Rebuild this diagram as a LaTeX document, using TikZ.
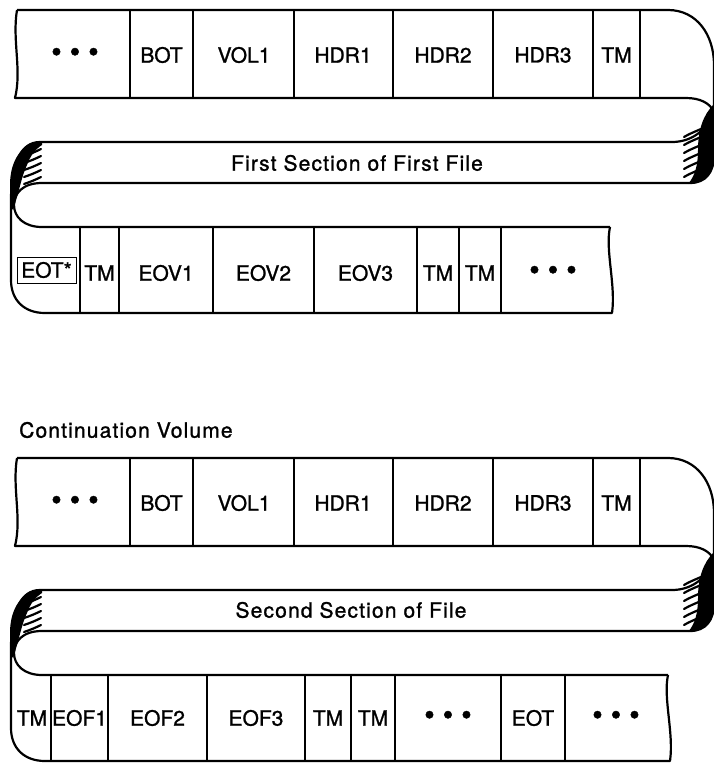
\documentclass[tikz,border=0pt]{standalone}
\usepackage{fontspec}
\setmainfont[FakeBold=1.2]{TeX Gyre Heros}
\newfontfamily\widefont[LetterSpace=5.5,FakeBold=1.2]{TeX Gyre Heros}
\newcommand{\tapedots}{{\fontsize{30}{30}\selectfont\textbullet\hspace{8pt}\textbullet\hspace{8pt}\textbullet}}
\begin{document}
\begin{tikzpicture}[x=1pt,y=-1pt,
    tape/.style={line width=2.2pt,line join=round},
    divider/.style={line width=1.7pt},
    hatch/.style={line width=2.2pt,line cap=round},
    field/.style={font=\fontsize{21}{24}\selectfont,inner sep=0pt}]
	\useasboundingbox (0,0) rectangle (714,763);
	% the folded tape, once for each volume
	\foreach \dy/\xe in {0/610,448/668}{
	  \begin{scope}[yshift=-\dy pt]
	    \draw[tape] (17,10) -- (668,10) .. controls (697,10) and (714,35) .. (714,65) -- (714,155) .. controls (714,172) and (706,183) .. (690,183) -- (42,183) .. controls (22,183) and (14,194) .. (14,205) .. controls (14,217) and (24,227) .. (42,227) -- (\xe,227);
	    \draw[tape] (\xe,227) .. controls (\xe-5,250) and (\xe+6,285) .. (\xe+2,313) -- (45,313) .. controls (24,313) and (11,300) .. (11,280) -- (11,200) .. controls (11,165) and (20,142) .. (40,142) -- (672,142) .. controls (690,142) and (706,132) .. (714,112);
	    \draw[tape] (17,10) .. controls (12,40) and (22,70) .. (15,98) -- (686,98) .. controls (700,98) and (710,103) .. (714,112);
	    % shading in the folds
	    \fill (714,104) -- (714,160) .. controls (714,174) and (704,184) .. (688,184) .. controls (695,176) and (698,165) .. (698,150) .. controls (698,130) and (703,115) .. (714,104) -- cycle;
	    \foreach \hy in {133,141,...,175}
	      \draw[hatch] (701,\hy-4) .. controls (694,\hy-1) and (689,\hy+1) .. (684,\hy+4);
	    \fill (42,141) .. controls (22,143) and (10,160) .. (10,185) -- (10,205) -- (13,210) .. controls (19,192) and (22,175) .. (27,165) .. controls (30,157) and (34,150) .. (42,145) -- cycle;
	    \foreach \hy in {153,160,...,181}
	      \draw[hatch] (24,\hy+3) .. controls (30,\hy+1) and (35,\hy-1) .. (41,\hy-4);
	    \foreach \x in {130,193,294,393,493,593,640}
	      \draw[divider] (\x,10) -- (\x,98);
	  \end{scope}
	}
	\foreach \x in {80,119,213,314,417,459,501}
	  \draw[divider] (\x,227) -- (\x,313);
	\foreach \x in {51,108,207,305,351,395,501,565}
	  \draw[divider] (\x,675) -- (\x,761);
	% first volume
	\node[field] (dotsa) at (75,55) {\tapedots};
	\node[field] (bota) at (161.5,55) {BOT};
	\node[field] (vola) at (244,55) {VOL1};
	\node[field] (hdra) at (343,55) {HDR1};
	\node[field] (hdrb) at (443,55) {HDR2};
	\node[field] (hdrc) at (543,55) {HDR3};
	\node[field] (tma) at (616.5,55) {TM};
	\node[field] (secta) at (357,163) {\widefont First Section of First File};
	\node[field,draw,line width=1pt,minimum width=59pt,minimum height=26pt] (eotstar) at (46.5,270) {EOT*};
	\node[field] (tmb) at (99.5,273) {TM};
	\node[field] (eova) at (166,273) {EOV1};
	\node[field] (eovb) at (263.5,273) {EOV2};
	\node[field] (eovc) at (365.5,273) {EOV3};
	\node[field] (tmc) at (438,273) {TM};
	\node[field] (tmd) at (480,273) {TM};
	\node[field] (dotsb) at (553,273) {\tapedots};
	% continuation volume
	\node[field,anchor=west] (contvol) at (19,430) {\widefont Continuation Volume};
	\node[field] (dotsc) at (75,503) {\tapedots};
	\node[field] (botb) at (161.5,503) {BOT};
	\node[field] (volb) at (244,503) {VOL1};
	\node[field] (hdrd) at (343,503) {HDR1};
	\node[field] (hdre) at (443,503) {HDR2};
	\node[field] (hdrf) at (543,503) {HDR3};
	\node[field] (tme) at (616.5,503) {TM};
	\node[field] (sectb) at (351,610) {\widefont Second Section of File};
	\node[field] (tmf) at (32,718) {TM};
	\node[field] (eofa) at (79.5,718) {EOF1};
	\node[field] (eofb) at (157.5,718) {EOF2};
	\node[field] (eofc) at (256,718) {EOF3};
	\node[field] (tmg) at (328,718) {TM};
	\node[field] (tmh) at (373,718) {TM};
	\node[field] (dotsd) at (448,718) {\tapedots};
	\node[field] (eot) at (533,718) {EOT};
	\node[field] (dotse) at (616,718) {\tapedots};
\end{tikzpicture}
\end{document}
